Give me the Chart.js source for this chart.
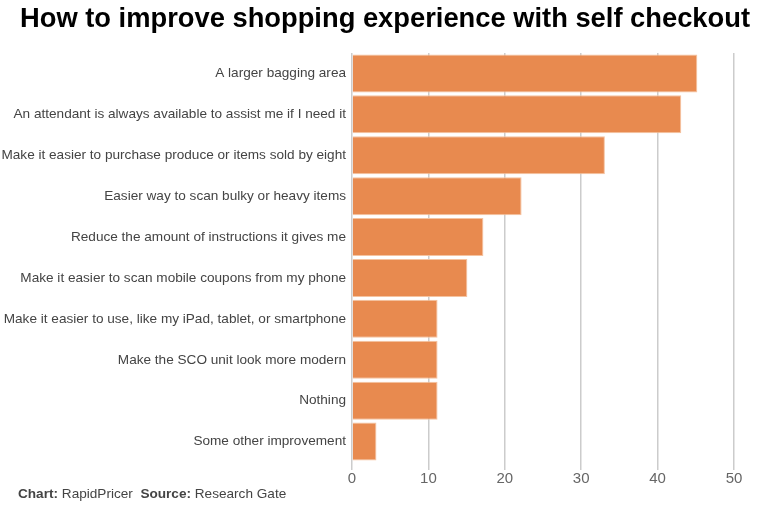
<!DOCTYPE html>
<html><head><meta charset="utf-8">
<script src="https://cdn.jsdelivr.net/npm/chart.js@4"></script>
<style>
body{margin:0;background:#fff;font-family:"Liberation Sans",Arial,sans-serif;overflow:hidden}
#w{position:absolute;left:0;top:0;width:762px;height:507px}
#t{position:absolute;left:20px;top:3px;white-space:nowrap;font-weight:bold;font-size:27px;color:#000;transform-origin:0 0}
#f{position:absolute;left:18px;top:486px;font-size:13.6px;color:#444;white-space:nowrap}
</style></head>
<body>
<div id="w"><canvas id="c"></canvas></div>
<div id="t">How to improve shopping experience with self checkout</div>
<div id="f"><b>Chart:</b> RapidPricer&nbsp; <b>Source:</b> Research Gate</div>
<script>
const categories = [
  "A larger bagging area",
  "An attendant is always available to assist me if I need it",
  "Make it easier to purchase produce or items sold by eight",
  "Easier way to scan bulky or heavy items",
  "Reduce the amount of instructions it gives me",
  "Make it easier to scan mobile coupons from my phone",
  "Make it easier to use, like my iPad, tablet, or smartphone",
  "Make the SCO unit look more modern",
  "Nothing",
  "Some other improvement"
];
const values = [45.2, 43.1, 33.1, 22.2, 17.2, 15.1, 11.2, 11.2, 11.2, 3.2];
const xTicks = [0, 10, 20, 30, 40, 50];

// fit title width
const t = document.getElementById('t');
const tw = t.getBoundingClientRect().width;
t.style.transform = 'scaleX(' + (730 / tw) + ')';

new Chart(document.getElementById('c'), {
  type: 'bar',
  data: {
    labels: categories,
    datasets: [{
      data: values,
      backgroundColor: '#E88A4F',
      borderColor: '#F5C3A0',
      borderWidth: 1,
      barPercentage: 0.93,
      categoryPercentage: 1.0
    }]
  },
  options: {
    indexAxis: 'y',
    responsive: true,
    maintainAspectRatio: false,
    animation: false,
    layout: { padding: { top: 53, bottom: 19, left: 0, right: 28 } },
    plugins: { legend: { display: false }, tooltip: { enabled: false } },
    scales: {
      x: {
        min: 0, max: 50,
        afterBuildTicks: s => { s.ticks = xTicks.map(v => ({ value: v })); },
        grid: { color: '#cccccc', lineWidth: 1.5, drawTicks: true, tickLength: 8 },
        border: { display: false },
        ticks: { color: '#666', font: { size: 15, family: '"Liberation Sans", Arial, sans-serif' }, padding: 0 }
      },
      y: {
        afterFit: s => { s.width = 352; },
        grid: { display: false, drawTicks: false },
        border: { display: false },
        ticks: { color: '#444', font: { size: 13.6, family: '"Liberation Sans", Arial, sans-serif' }, padding: 6 }
      }
    }
  }
});
</script>
</body></html>
